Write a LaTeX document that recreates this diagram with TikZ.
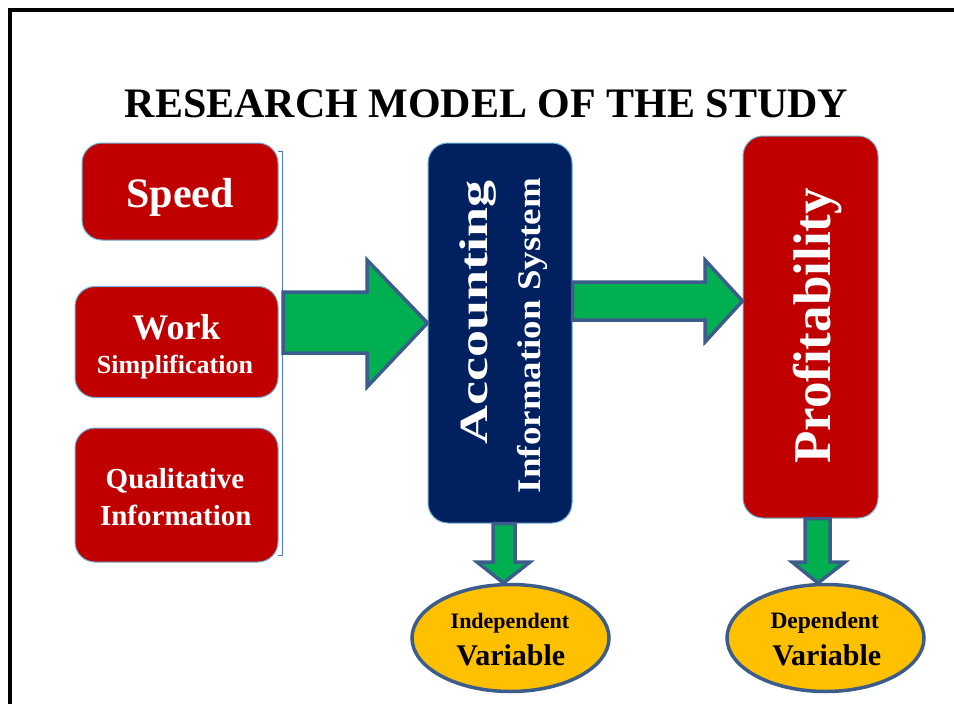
\documentclass[tikz,border=0pt]{standalone}
\usepackage{fontspec}
\setmainfont{Liberation Serif}
\usetikzlibrary{shapes,positioning,calc}

\definecolor{boxred}{RGB}{192,0,0}
\definecolor{boxnavy}{RGB}{0,32,96}
\definecolor{arrowgreen}{RGB}{0,176,80}
\definecolor{ovalgold}{RGB}{255,192,0}
\definecolor{arrowedge}{RGB}{60,92,140}
\definecolor{boxedge}{RGB}{110,175,210}
\definecolor{bracketblue}{RGB}{80,120,190}

\newcommand{\fsize}[1]{\fontsize{#1}{#1}\selectfont}

\begin{document}
\begin{tikzpicture}[x=1pt,y=-1pt,
    box/.style={draw=boxedge, line width=1pt, rounded corners=20pt, inner sep=0pt},
    boxtext/.style={text=white, anchor=base, inner sep=0pt},
    blockarrow/.style={fill=arrowgreen, draw=arrowedge, line width=3.5pt, line join=miter},
    oval/.style={ellipse, fill=ovalgold, draw=arrowedge, line width=3.5pt, minimum width=197pt, minimum height=107pt, inner sep=0pt},
    ovaltext/.style={anchor=base, inner sep=0pt}]
    \useasboundingbox (0,0) rectangle (954,704);
    % frame
    \draw[line width=4pt] (954,10) -- (10,10) -- (10,704);

    \node[anchor=base, inner sep=0pt, font=\bfseries\fsize{42}] (title) at (486.5,117) {RESEARCH MODEL OF THE STUDY};

    % input boxes
    \node[box, fill=boxred, minimum width=196pt, minimum height=97pt] (speed) at (180,191.5) {};
    \node[box, fill=boxred, minimum width=203pt, minimum height=111pt] (work) at (176.5,342) {};
    \node[box, fill=boxred, minimum width=203pt, minimum height=134pt] (qual) at (176.5,495) {};

    \node[boxtext, font=\bfseries\fsize{42}] (speedtxt) at (180,207) {Speed};
    \node[boxtext, font=\bfseries\fsize{36}] (worktxt) at (176.5,339) {Work};
    \node[boxtext, font=\bfseries\fsize{26}] (simptxt) at (175,373) {Simplification};
    \node[boxtext, font=\bfseries\fsize{29}] (qualtxt) at (175,488) {Qualitative};
    \node[boxtext, font=\bfseries\fsize{29}] (infotxt) at (175.8,525) {Information};

    % bracket
    \draw[bracketblue, line width=1pt] (278,151) -- (282,151) -- (282,555) -- (278,555);

    % middle and right boxes
    \node[box, fill=boxnavy, minimum width=144pt, minimum height=380pt] (ais) at (500,333) {};
    \node[box, fill=boxred, minimum width=135pt, minimum height=382pt] (profit) at (810.5,327) {};

    \node[boxtext, rotate=90, font=\bfseries\fsize{40}] (acctxt) at (487,312) {\scalebox{1.35}[1]{Accounting}};
    \node[boxtext, rotate=90, font=\bfseries\fsize{33}] (systxt) at (540,335.5) {\scalebox{1.12}[1]{Information System}};
    \node[boxtext, rotate=90, font=\bfseries\fsize{53}] (proftxt) at (830,326) {Profitability};

    % block arrows
    \draw[blockarrow] (283,292) -- (367,292) -- (367,260) -- (ais.west |- 0,323)
        -- (367,387) -- (367,353) -- (283,353) -- cycle;
    \draw[blockarrow] (ais.east |- 0,282) -- (705,282) -- (705,260) -- (profit.west |- 0,301)
        -- (705,342) -- (705,320) -- (ais.east |- 0,320) -- cycle;
    \draw[blockarrow] (ais.south -| 493,0) -- (493,562) -- (477,562) -- (503.5,583)
        -- (530,562) -- (515,562) -- (ais.south -| 515,0) -- cycle;
    \draw[blockarrow] (profit.south -| 805,0) -- (805,562) -- (792,562) -- (818,583)
        -- (845,562) -- (830,562) -- (profit.south -| 830,0) -- cycle;

    % variable ovals
    \node[oval] (indep) at (510.5,638) {};
    \node[oval] (dep) at (825.5,638) {};

    \node[ovaltext, font=\bfseries\fsize{22}] (indeptxt) at (510,628) {Independent};
    \node[ovaltext, font=\bfseries\fsize{30}] (indepvar) at (510.8,665) {Variable};
    \node[ovaltext, font=\bfseries\fsize{23.5}] (deptxt) at (824.7,628) {Dependent};
    \node[ovaltext, font=\bfseries\fsize{30}] (depvar) at (826.7,665) {Variable};
\end{tikzpicture}
\end{document}
